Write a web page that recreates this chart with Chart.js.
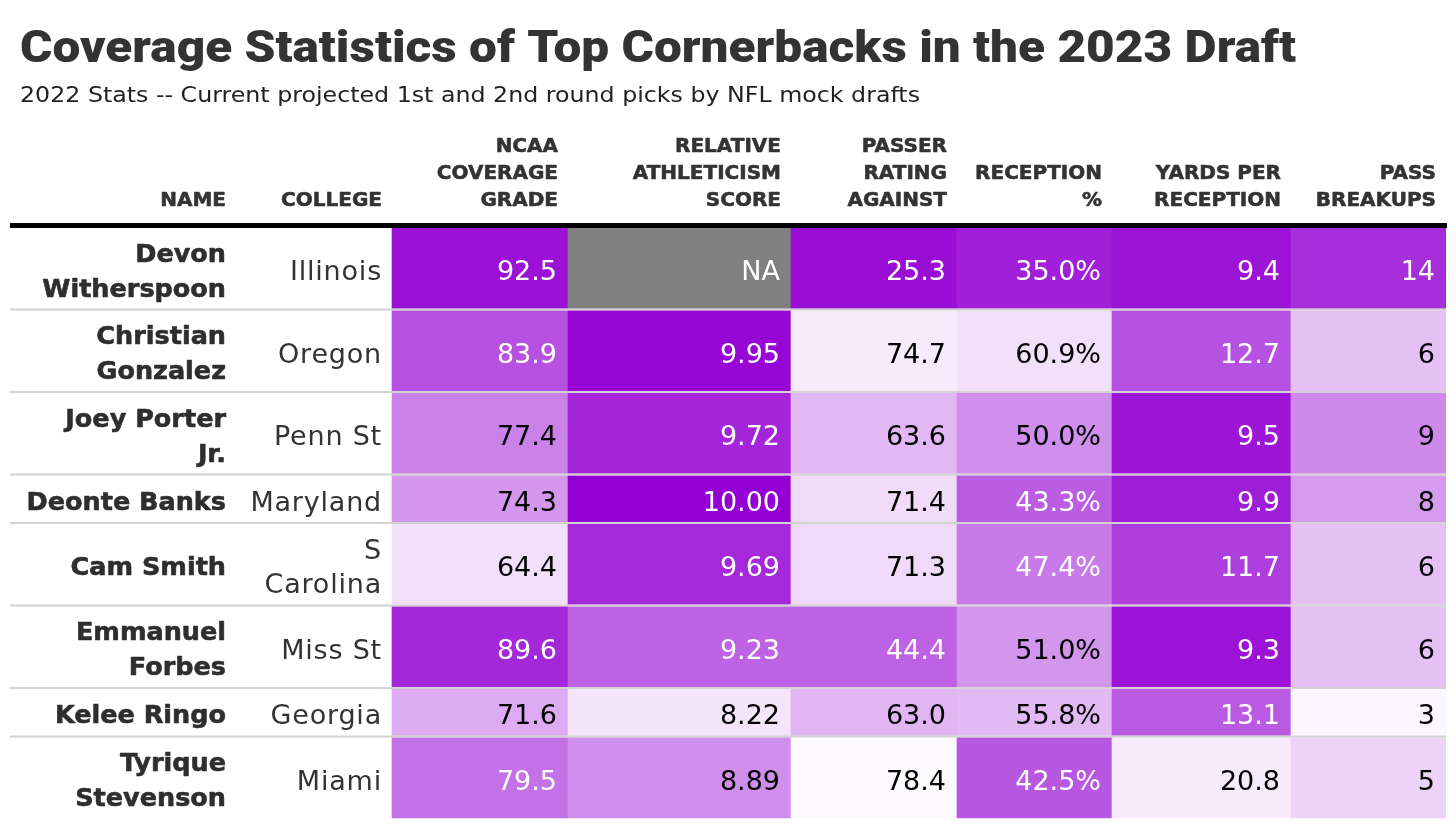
<!DOCTYPE html>
<html><head><meta charset="utf-8">
<script src="https://cdn.jsdelivr.net/npm/chart.js@4/dist/chart.umd.min.js"></script>
<style>html,body{margin:0;padding:0;background:#fff;}canvas{display:block;}</style>
</head><body>
<canvas id="c" width="1456" height="831"></canvas>
<script>
// ---------- data ----------
const titleText = "Coverage Statistics of Top Cornerbacks in the 2023 Draft";
const subtitleText = "2022 Stats -- Current projected 1st and 2nd round picks by NFL mock drafts";
const players = ["Devon\nWitherspoon","Christian\nGonzalez","Joey Porter\nJr.","Deonte Banks","Cam Smith","Emmanuel\nForbes","Kelee Ringo","Tyrique\nStevenson"];
const colleges = ["Illinois","Oregon","Penn St","Maryland","S\nCarolina","Miss St","Georgia","Miami"];
const coverageGrade = [92.5, 83.9, 77.4, 74.3, 64.4, 89.6, 71.6, 79.5];
const athleticismScore = [null, 9.95, 9.72, 10.00, 9.69, 9.23, 8.22, 8.89];
const passerRating = [25.3, 74.7, 63.6, 71.4, 71.3, 44.4, 63.0, 78.4];
const receptionPct = [35.0, 60.9, 50.0, 43.3, 47.4, 51.0, 55.8, 42.5];
const yardsPerReception = [9.4, 12.7, 9.5, 9.9, 11.7, 9.3, 13.1, 20.8];
const passBreakups = [14, 6, 9, 8, 6, 6, 3, 5];
const headerName = ["NAME"];
const headerCollege = ["COLLEGE"];

// ---------- column setup (colour domains: value at light end, value at dark end) ----------
const statCols = [
  {head:["NCAA","COVERAGE","GRADE"], values:coverageGrade, fmt:v=>v.toFixed(1), light:60.2, dark:94.9},
  {head:["RELATIVE","ATHLETICISM","SCORE"], values:athleticismScore, fmt:v=>v.toFixed(2), light:8.02, dark:10.0},
  {head:["PASSER","RATING","AGAINST"], values:passerRating, fmt:v=>v.toFixed(1), light:79.5, dark:22.4},
  {head:["RECEPTION","%"], values:receptionPct, fmt:v=>v.toFixed(1)+"%", light:65.0, dark:30.9},
  {head:["YARDS PER","RECEPTION"], values:yardsPerReception, fmt:v=>v.toFixed(1), light:21.9, dark:8.35},
  {head:["PASS","BREAKUPS"], values:passBreakups, fmt:v=>String(v), light:2.58, dark:16.5}
];

// ---------- layout ----------
const colWidths = [226, 156, 176, 223, 166, 155, 179, 155];
const colStart = [0]; colWidths.forEach(w => colStart.push(colStart[colStart.length-1] + w));
const lineCount = players.map((p,i) => Math.max(p.split("\n").length, colleges[i].split("\n").length));
const rowPitch = lineCount.map(n => n > 1 ? 82.5 : 48.5);
const sepW = 2;
const rowTop = [0]; rowPitch.forEach(h => rowTop.push(rowTop[rowTop.length-1] + h));
const totalH = rowTop[rowTop.length-1];
const rowCenter = rowPitch.map((h,i) => rowTop[i] + (h - sepW)/2);

function tOf(col, v){ if (v === null) return null; let t = (v - col.light)/(col.dark - col.light); return Math.max(0, Math.min(1, t)); }
function colorOf(t){
  if (t === null) return "#808080";
  const r = Math.round(255 + (148-255)*t), g = Math.round(255*(1-t)), b = Math.round(255 + (211-255)*t);
  return `rgb(${r},${g},${b})`;
}

const datasets = players.map((p, r) => ({
  label: p.replace("\n"," "),
  data: statCols.map((c, j) => ({x:[colStart[j+2], colStart[j+3]], y: rowCenter[r]})),
  backgroundColor: statCols.map(c => colorOf(tOf(c, c.values[r]))),
  borderWidth: 0,
  barThickness: rowPitch[r] - sepW,
  grouped: false
}));

function setSpacing(ctx, s){ if ('letterSpacing' in ctx) ctx.letterSpacing = s; }
function boldText(ctx, s, x, y, sw){ ctx.fillText(s, x, y); ctx.lineWidth = sw; ctx.strokeStyle = ctx.fillStyle; ctx.strokeText(s, x, y); }

const tablePlugin = {
  id: 'tableText',
  afterDatasetsDraw(chart){
    const ctx = chart.ctx, xs = chart.scales.x, ys = chart.scales.y;
    const L = xs.getPixelForValue(0), R = xs.getPixelForValue(colStart[colStart.length-1]);
    ctx.save();
    ctx.lineJoin = "round";
    // title
    ctx.fillStyle = "#333333"; ctx.textAlign = "left"; ctx.textBaseline = "alphabetic";
    ctx.font = "900 45px Roboto";
    let w = ctx.measureText(titleText).width;
    ctx.save(); ctx.translate(20, 62); ctx.scale(1276 / w, 1); ctx.fillText(titleText, 0, 0); ctx.restore();
    ctx.fillStyle = "#222222";
    ctx.font = "21px 'DejaVu Sans'";
    w = ctx.measureText(subtitleText).width;
    ctx.save(); ctx.translate(20, 102); ctx.scale(900 / w, 1); ctx.fillText(subtitleText, 0, 0); ctx.restore();

    // headers
    ctx.fillStyle = "#333333"; ctx.textAlign = "right";
    ctx.font = "bold 20px 'DejaVu Sans'";
    const heads = [headerName, headerCollege].concat(statCols.map(c => c.head));
    heads.forEach((lines, j) => {
      const xr = xs.getPixelForValue(colStart[j+1]) - 10;
      lines.forEach((ln, k) => boldText(ctx, ln, xr, 206 - (lines.length-1-k)*27, 0.6));
    });
    // thick rule
    ctx.fillStyle = "#000000";
    ctx.fillRect(L, 223, R - L + 1, 5);

    // row separators
    ctx.fillStyle = "#d3d3d3";
    for (let r = 0; r < players.length - 1; r++) {
      const yb = ys.getPixelForValue(rowTop[r+1]);
      ctx.fillRect(L, yb - sepW, R - L, sepW);
    }

    // names and colleges
    players.forEach((p, r) => {
      const yc = ys.getPixelForValue(rowCenter[r]);
      ctx.fillStyle = "#2e2e2e";
      ctx.font = "bold 25.5px 'DejaVu Sans'"; setSpacing(ctx, "0px");
      let lines = p.split("\n");
      lines.forEach((ln, k) => boldText(ctx, ln, xs.getPixelForValue(colStart[1]) - 10, yc + 11 + (k - (lines.length-1)/2)*35, 0.6));
      ctx.fillStyle = "#333333";
      ctx.font = "27px 'DejaVu Sans'"; setSpacing(ctx, "0.8px");
      lines = colleges[r].split("\n");
      lines.forEach((ln, k) => ctx.fillText(ln, xs.getPixelForValue(colStart[2]) - 10, yc + 12 + (k - (lines.length-1)/2)*34));
      setSpacing(ctx, "0px");
    });

    // cell values
    ctx.font = "27px 'DejaVu Sans'";
    chart.data.datasets.forEach((ds, r) => {
      const meta = chart.getDatasetMeta(r);
      meta.data.forEach((el, j) => {
        const c = statCols[j], v = c.values[r], t = tOf(c, v);
        ctx.fillStyle = (t === null || t >= 0.505) ? "#ffffff" : "#000000";
        const xr = Math.max(el.x, el.base) - 11;
        ctx.fillText(v === null ? "NA" : c.fmt(v), xr, el.y + 12);
      });
    });
    ctx.restore();
  }
};

new Chart(document.getElementById("c"), {
  type: "bar",
  data: { datasets },
  options: {
    indexAxis: "y",
    responsive: false,
    animation: false,
    layout: { padding: { left: 10, right: 10, top: 228, bottom: 831 - 228 - totalH } },
    scales: {
      x: { type: "linear", min: 0, max: colStart[colStart.length-1], offset: false, display: false },
      y: { type: "linear", min: 0, max: totalH, reverse: true, offset: false, display: false }
    },
    plugins: { legend: { display: false }, tooltip: { enabled: false }, title: { display: false } }
  },
  plugins: [tablePlugin]
});
</script>
</body></html>
